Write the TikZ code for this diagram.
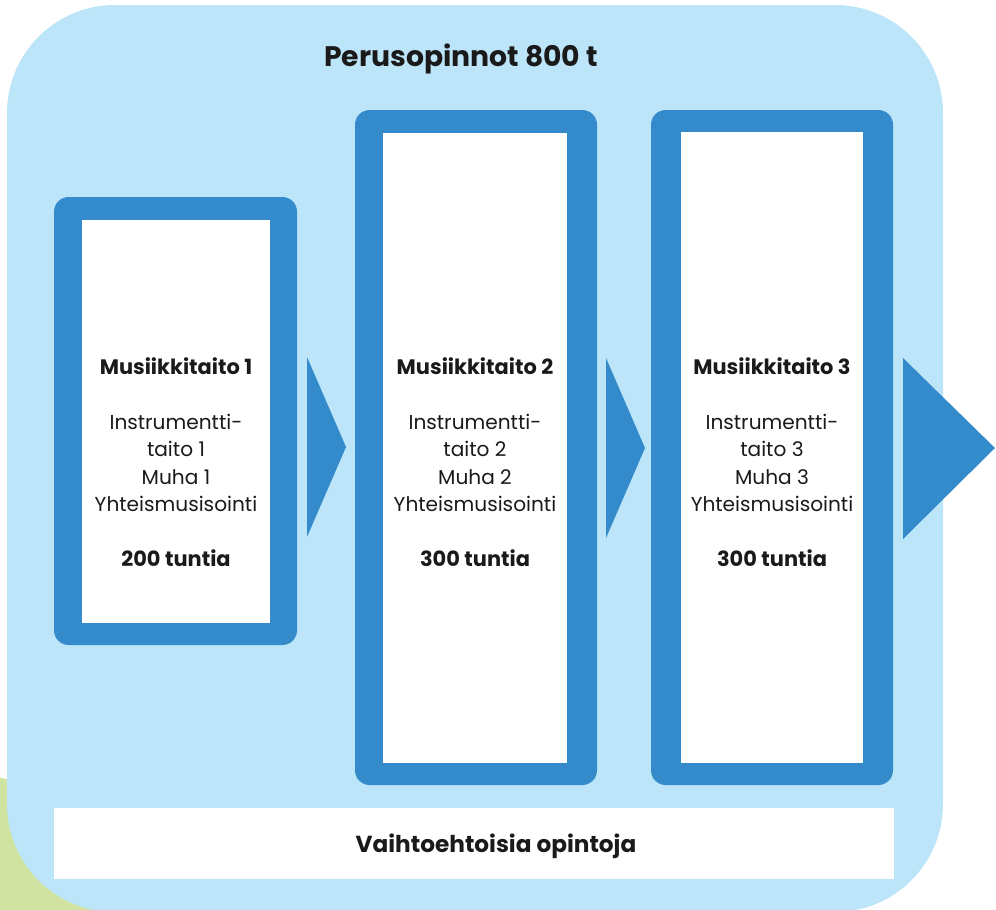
\documentclass[tikz,border=0pt]{standalone}
\usepackage{fontspec}
\setmainfont{Poppins}
\definecolor{leafgreen}{HTML}{D0E3A0}
\definecolor{skyblue}{HTML}{BDE5F9}
\definecolor{boxblue}{HTML}{338BCB}
\definecolor{ink}{HTML}{1A1A1A}
\newcommand{\hdr}[1]{{\fontsize{15.7}{20.6}\selectfont\bfseries #1}}
\tikzset{
  framebox/.style={fill=boxblue, rounded corners=11pt},
  innerbox/.style={fill=white},
  flowarrow/.style={fill=boxblue},
  moduletext/.style={align=center, text=ink, inner sep=0pt, font=\fontsize{15.1}{20.6}\selectfont},
  titletext/.style={text=ink, inner sep=0pt, font=\fontsize{21.2}{24}\selectfont\bfseries},
  bartext/.style={text=ink, inner sep=0pt, font=\fontsize{17.4}{20}\selectfont\bfseries}
}
\begin{document}
\begin{tikzpicture}[x=0.75pt,y=-0.75pt]
\useasboundingbox (0,0) rectangle (996,910);
\clip (0,0) rectangle (996,910);
% green blob
\fill[leafgreen] (-100,1200) circle[radius=325.5pt];
% big light blue panel
\fill[skyblue, rounded corners=81pt] (7,5) rectangle (943,912);
\node[titletext] (title) at (461,59) {Perusopinnot 800 t};
% box 1
\fill[framebox] (54,197) rectangle (297,645);
\fill[innerbox] (82,220) rectangle (270,623);
\node[moduletext] (m1) at (176,462) {\hdr{Musiikkitaito 1}\\[20.6pt]Instrumentti-\\taito 1\\Muha 1\\Yhteismusisointi\\[20.6pt]\hdr{200 tuntia}};
% box 2
\fill[framebox] (355,110) rectangle (597,785);
\fill[innerbox] (383,133) rectangle (567,763);
\node[moduletext] (m2) at (475,462) {\hdr{Musiikkitaito 2}\\[20.6pt]Instrumentti-\\taito 2\\Muha 2\\Yhteismusisointi\\[20.6pt]\hdr{300 tuntia}};
% box 3
\fill[framebox] (651,110) rectangle (893,785);
\fill[innerbox] (681,132) rectangle (863,763);
\node[moduletext] (m3) at (772,462) {\hdr{Musiikkitaito 3}\\[20.6pt]Instrumentti-\\taito 3\\Muha 3\\Yhteismusisointi\\[20.6pt]\hdr{300 tuntia}};
% arrows
\fill[flowarrow] (307,357) -- (307,537) -- (346,447) -- cycle;
\fill[flowarrow] (606,358) -- (606,538) -- (645,448) -- cycle;
\fill[flowarrow] (903,358) -- (903,539) -- (995,448) -- cycle;
% bottom bar
\fill[innerbox] (54,808) rectangle (894,879);
\node[bartext] (alt) at (496,846) {Vaihtoehtoisia opintoja};
\end{tikzpicture}
\end{document}
